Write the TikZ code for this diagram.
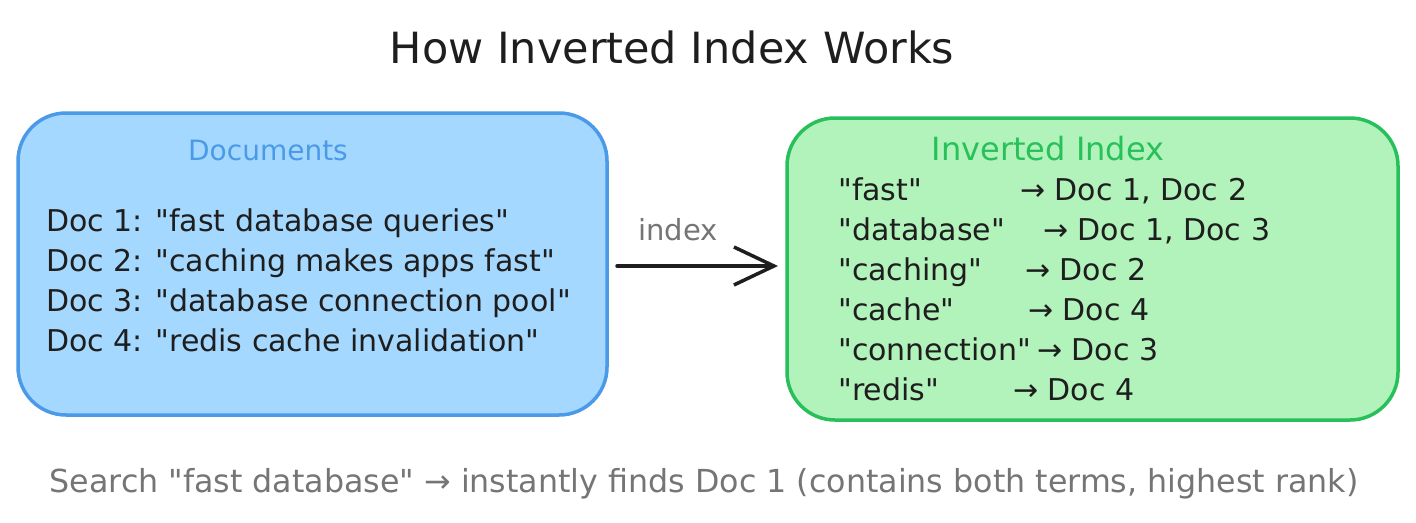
\documentclass[tikz,border=0pt]{standalone}
\usepackage{fontspec}
\newfontfamily\djv{DejaVu Sans}
\usetikzlibrary{arrows.meta}
\definecolor{bluefill}{HTML}{A5D8FF}
\definecolor{bluestroke}{HTML}{4A9AE8}
\definecolor{greenfill}{HTML}{B2F2BB}
\definecolor{greenstroke}{HTML}{28C05A}
\definecolor{inktext}{HTML}{1E1E1E}
\definecolor{graytext}{HTML}{757575}
\begin{document}
\djv
\begin{tikzpicture}[x=1pt,y=-1pt,
  txt/.style={inner sep=0pt, anchor=base west, text=inktext},
  panel/.style={draw, line width=3.5pt, rounded corners=48pt, inner sep=0pt},
  bodyfont/.style={font=\djv\fontsize{30}{34}\selectfont}]
\useasboundingbox (0,0) rectangle (1416,522);
\fill[white] (0,0) rectangle (1416,522);

\node[txt, anchor=base, font=\djv\fontsize{43}{46}\selectfont] (title) at (672,63) {How Inverted Index Works};

\node[panel, fill=bluefill, draw=bluestroke, minimum width=589pt, minimum height=302pt] (docs) at (312.5,264) {};
\node[panel, fill=greenfill, draw=greenstroke, minimum width=611pt, minimum height=302pt] (inv) at (1092.5,269) {};

\node[txt, anchor=base, font=\djv\fontsize{28}{32}\selectfont, text=bluestroke] (doch) at (268,160) {Documents};
\node[txt, bodyfont] (d1) at (46,231) {Doc 1: "fast database queries"};
\node[txt, bodyfont] (d2) at (46,271) {Doc 2: "caching makes apps fast"};
\node[txt, bodyfont] (d3) at (46,311) {Doc 3: "database connection pool"};
\node[txt, bodyfont] (d4) at (46,351) {Doc 4: "redis cache invalidation"};

\node[txt, anchor=base, font=\djv\fontsize{32}{36}\selectfont, text=greenstroke] (invh) at (1048,160) {Inverted Index};
\node[txt, bodyfont] (t1) at (838,200) {"fast"};
\node[txt, bodyfont] (r1) at (1020,200) {→ Doc 1, Doc 2};
\node[txt, bodyfont] (t2) at (838,240) {"database"};
\node[txt, bodyfont] (r2) at (1043,240) {→ Doc 1, Doc 3};
\node[txt, bodyfont] (t3) at (838,280) {"caching"};
\node[txt, bodyfont] (r3) at (1025,280) {→ Doc 2};
\node[txt, bodyfont] (t4) at (838,320) {"cache"};
\node[txt, bodyfont] (r4) at (1028,320) {→ Doc 4};
\node[txt, bodyfont] (t5) at (838,360) {"connection"};
\node[txt, bodyfont] (r5) at (1037,360) {→ Doc 3};
\node[txt, bodyfont] (t6) at (838,400) {"redis"};
\node[txt, bodyfont] (r6) at (1013,400) {→ Doc 4};

\coordinate (aS) at (617,266);
\coordinate (aE) at (778,266);
\draw[line width=3.5pt, line cap=round, draw=inktext,
  -{Straight Barb[length=40pt, width=38pt, line width=3.5pt]}] (aS) -- (aE);
\node[txt, anchor=base, text=graytext, font=\djv\fontsize{29}{32}\selectfont] (lbl) at (678,240) {index};

\node[txt, anchor=base, text=graytext, font=\djv\fontsize{31.7}{36}\selectfont] (foot) at (704,492) {Search "fast database" → instantly finds Doc 1 (contains both terms, highest rank)};
\end{tikzpicture}
\end{document}
